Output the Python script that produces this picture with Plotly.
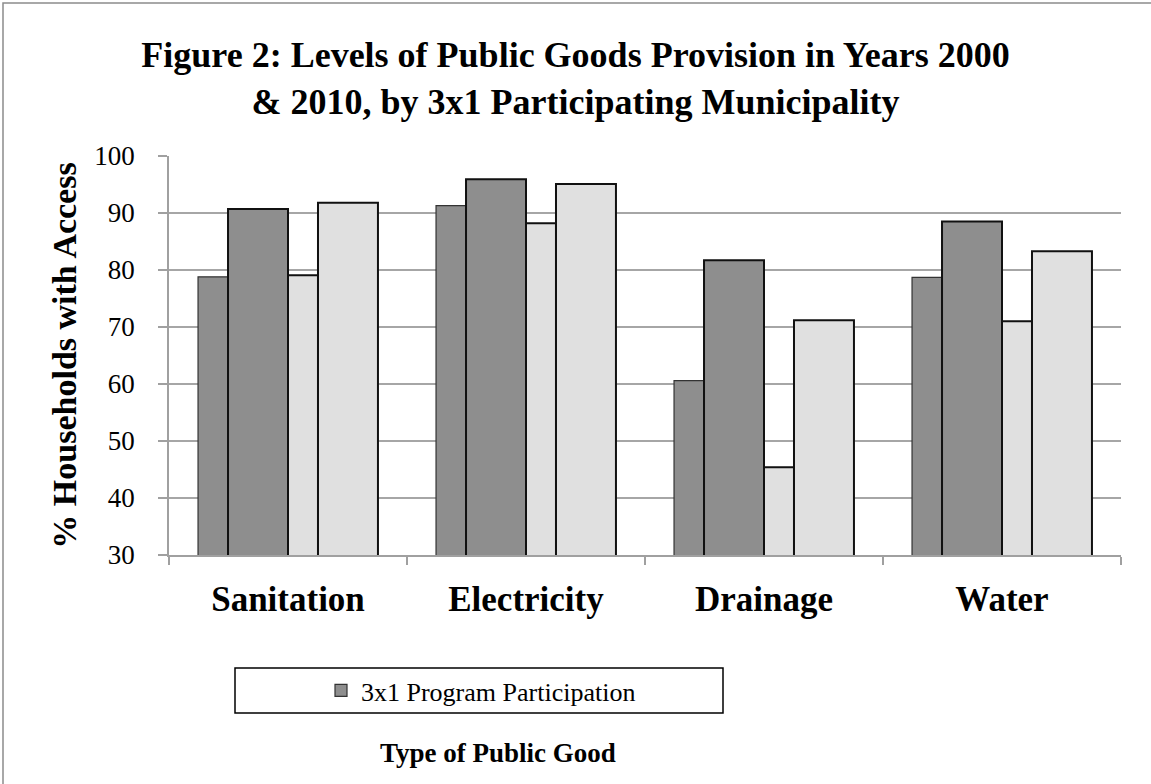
import plotly.graph_objects as go

categories = ["Sanitation", "Electricity", "Drainage", "Water"]
part_2000 = [78.8, 91.3, 60.6, 78.7]
part_2010 = [90.7, 95.9, 81.7, 88.5]
nonpart_2000 = [79.1, 88.2, 45.4, 71.0]
nonpart_2010 = [91.8, 95.1, 71.2, 83.3]
y_ticks = [30, 40, 50, 60, 70, 80, 90, 100]

FONT = "Liberation Serif"
W, H = 1151, 784
ML, MR, MT, MB = 169, 30, 156, 229
PW, PH = W - ML - MR, H - MT - MB

def px_x(p):
    return (p - ML) / PW

def px_y(p):
    return (H - MB - p) / PH

DARK = "#8e8e8e"
LIGHT = "#e0e0e0"
EDGE = "#111111"

fig = go.Figure()
fig.add_trace(go.Bar(name="3x1 Program Participation", x=categories, y=part_2000,
                     offset=-0.378, width=0.126, marker=dict(color=DARK, line=dict(color="#333333", width=1.2)),
                     showlegend=True))
fig.add_trace(go.Bar(name="3x1 Program Participation 2010", x=categories, y=part_2010,
                     offset=-0.252, width=0.252, marker=dict(color=DARK, line=dict(color=EDGE, width=2)),
                     showlegend=False))
fig.add_trace(go.Bar(name="Non-participating 2000", x=categories, y=nonpart_2000,
                     offset=0.0, width=0.126, marker=dict(color=LIGHT, line=dict(color=EDGE, width=2)),
                     showlegend=False))
fig.add_trace(go.Bar(name="Non-participating 2010", x=categories, y=nonpart_2010,
                     offset=0.126, width=0.252, marker=dict(color=LIGHT, line=dict(color=EDGE, width=2)),
                     showlegend=False))

fig.update_layout(
    width=W, height=H,
    margin=dict(l=ML, r=MR, t=MT, b=MB, autoexpand=False),
    paper_bgcolor="white", plot_bgcolor="white",
    barmode="overlay",
    font=dict(family=FONT, color="black"),
    title=dict(text="Figure 2: Levels of Public Goods Provision in Years 2000<br>&amp; 2010, by 3x1 Participating Municipality",
               x=0.5, xanchor="center", xref="container", y=1 - 67 / H, yanchor="top", yref="container",
               font=dict(family=FONT, size=36, color="black", weight="bold")),
    xaxis=dict(range=[-0.5, 3.5], showline=True, linecolor="#a0a0a0", linewidth=1.5,
               ticks="outside", tickson="boundaries", ticklen=8, tickcolor="#a0a0a0", tickwidth=1.5,
               tickfont=dict(family=FONT, size=35, color="black", weight="bold"), ticklabelstandoff=12,
               showgrid=False, automargin=False),
    yaxis=dict(range=[30, 100], tickvals=y_ticks, showline=True, linecolor="#a0a0a0", linewidth=1.5,
               ticks="outside", ticklen=9, tickcolor="#a0a0a0", tickwidth=1.5,
               showgrid=True, gridcolor="#a6a6a6", gridwidth=1.5,
               tickfont=dict(family=FONT, size=27, color="black"), ticklabelstandoff=18,
               title=dict(text="% Households with Access",
                          font=dict(family=FONT, size=34, color="black", weight="bold"),
                          standoff=7),
               automargin=False, zeroline=False),
    legend=dict(x=px_x(481), xanchor="center", y=px_y(690.5), yanchor="middle",
                bgcolor="rgba(0,0,0,0)", borderwidth=0,
                font=dict(family=FONT, size=26, color="black")),
    shapes=[
        dict(type="rect", xref="paper", yref="paper", x0=px_x(3), x1=px_x(1400), y0=px_y(1100), y1=px_y(3),
             line=dict(color="#8c8c8c", width=1.5), fillcolor="rgba(0,0,0,0)", layer="below"),
        dict(type="rect", xref="paper", yref="paper", x0=px_x(235), x1=px_x(723), y0=px_y(713), y1=px_y(668),
             line=dict(color="black", width=1.5), fillcolor="rgba(0,0,0,0)"),
    ],
    annotations=[
        dict(text="Type of Public Good", xref="paper", yref="paper", x=px_x(497.5), y=px_y(753),
             xanchor="center", yanchor="middle", showarrow=False,
             font=dict(family=FONT, size=27, color="black", weight="bold")),
    ],
)

fig.write_html("out.html")
